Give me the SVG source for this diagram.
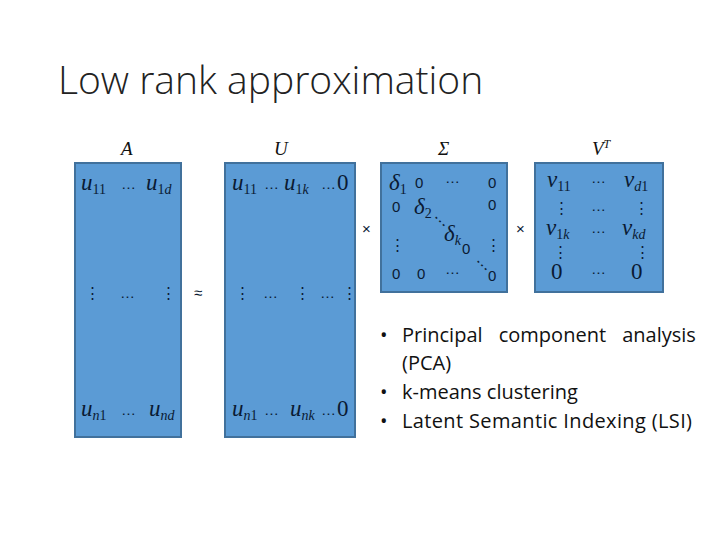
<svg xmlns="http://www.w3.org/2000/svg" width="720" height="540" viewBox="0 0 720 540">
<style>
.m{fill:#5b9bd5;stroke:#41719c;stroke-width:2}
.i{font-family:"Liberation Serif",serif;font-style:italic;font-size:23px;fill:#0a1a33}
.s{font-size:14px}
.r{font-style:normal}
.n{font-family:"Liberation Sans",sans-serif;font-size:15px;fill:#0a1a33}
.h{font-family:"Liberation Serif",serif;font-style:italic;font-size:19px;fill:#111}
.b{font-family:"Open Sans","Liberation Sans",sans-serif;font-size:20px;fill:#111}
</style>
<rect width="720" height="540" fill="#fff"/>
<text x="58" y="94" font-family="Open Sans,Liberation Sans,sans-serif" font-size="39" font-weight="300" fill="#222">Low rank approximation</text>
<g id="A">
<text class="h" x="121" y="155">A</text>
<rect class="m" x="75" y="163" width="106" height="274"/>
<text class="i" x="81" y="190">u<tspan class="s r" dy="4">11</tspan></text>
<text class="n" x="121" y="189">…</text>
<text class="i" x="146" y="190">u<tspan class="s r" dy="4">1</tspan><tspan class="s">d</tspan></text>
<text class="n" x="85" y="298">⋮</text><text class="n" x="120" y="298">…</text><text class="n" x="161" y="298">⋮</text>
<text class="i" x="81" y="416">u<tspan class="s" dy="4">n</tspan><tspan class="s r">1</tspan></text>
<text class="n" x="121" y="415">…</text>
<text class="i" x="149" y="416">u<tspan class="s" dy="4">nd</tspan></text>
</g>
<text class="n" x="194" y="298" font-size="17">≈</text>
<g id="U">
<text class="h" x="274" y="155">U</text>
<rect class="m" x="225" y="163" width="130" height="274"/>
<text class="i" x="232" y="190">u<tspan class="s r" dy="4">11</tspan></text>
<text class="n" x="264" y="189">…</text>
<text class="i" x="284" y="190">u<tspan class="s r" dy="4">1</tspan><tspan class="s">k</tspan></text>
<text class="n" x="321" y="189">…</text>
<text class="i r" x="337" y="190">0</text>
<text class="n" x="235" y="298">⋮</text><text class="n" x="263" y="298">…</text><text class="n" x="295" y="298">⋮</text><text class="n" x="320" y="298">…</text><text class="n" x="342" y="298">⋮</text>
<text class="i" x="232" y="416">u<tspan class="s" dy="4">n</tspan><tspan class="s r">1</tspan></text>
<text class="n" x="264" y="415">…</text>
<text class="i" x="290" y="416">u<tspan class="s" dy="4">nk</tspan></text>
<text class="n" x="321" y="415">…</text>
<text class="i r" x="337" y="416">0</text>
</g>
<text class="n" x="362" y="234">×</text>
<g id="Sigma">
<text class="h r" x="438" y="155">Σ</text>
<rect class="m" x="381" y="163" width="126" height="129"/>
<text class="i" x="389" y="190">δ<tspan class="s r" dy="4">1</tspan></text>
<text class="n" x="415" y="188">0</text><text class="n" x="445" y="183">…</text><text class="n" x="488" y="188">0</text>
<text class="n" x="392" y="212">0</text>
<text class="i" x="414" y="214">δ<tspan class="s r" dy="4">2</tspan></text>
<text class="n" x="488" y="210">0</text>
<text class="n" x="434" y="228" transform="rotate(-45 438 224)">⋮</text>
<text class="i" x="444" y="241">δ<tspan class="s" dy="4">k</tspan></text>
<text class="n" x="462" y="254">0</text>
<text class="n" x="486" y="250">⋮</text>
<text class="n" x="390" y="250">⋮</text>
<text class="n" x="476" y="272" transform="rotate(-45 480 268)">⋮</text>
<text class="n" x="392" y="279">0</text><text class="n" x="417" y="279">0</text><text class="n" x="445" y="274">…</text><text class="n" x="488" y="281">0</text>
</g>
<text class="n" x="516" y="234">×</text>
<g id="VT">
<text class="h" x="592" y="155">V<tspan font-size="12" dy="-7">T</tspan></text>
<rect class="m" x="535" y="163" width="128" height="129"/>
<text class="i" x="547" y="187">v<tspan class="s r" dy="4">11</tspan></text>
<text class="n" x="591" y="183">…</text>
<text class="i" x="624" y="187">v<tspan class="s" dy="4">d</tspan><tspan class="s r">1</tspan></text>
<text class="n" x="554" y="213">⋮</text><text class="n" x="591" y="211">…</text><text class="n" x="634" y="213">⋮</text>
<text class="i" x="546" y="235">v<tspan class="s r" dy="4">1</tspan><tspan class="s">k</tspan></text>
<text class="n" x="591" y="233">…</text>
<text class="i" x="622" y="235">v<tspan class="s" dy="4">kd</tspan></text>
<text class="n" x="553" y="257">⋮</text><text class="n" x="635" y="257">⋮</text>
<text class="i r" x="551" y="279" font-size="19">0</text><text class="n" x="591" y="274">…</text><text class="i r" x="631" y="279" font-size="19">0</text>
</g>
<g id="bullets" class="b">
<text x="380" y="342">•</text><text x="402" y="342" word-spacing="11">Principal component analysis</text>
<text x="402" y="370">(PCA)</text>
<text x="380" y="399">•</text><text x="402" y="399">k-means clustering</text>
<text x="380" y="428">•</text><text x="402" y="428" textLength="290">Latent Semantic Indexing (LSI)</text>
</g>
</svg>
